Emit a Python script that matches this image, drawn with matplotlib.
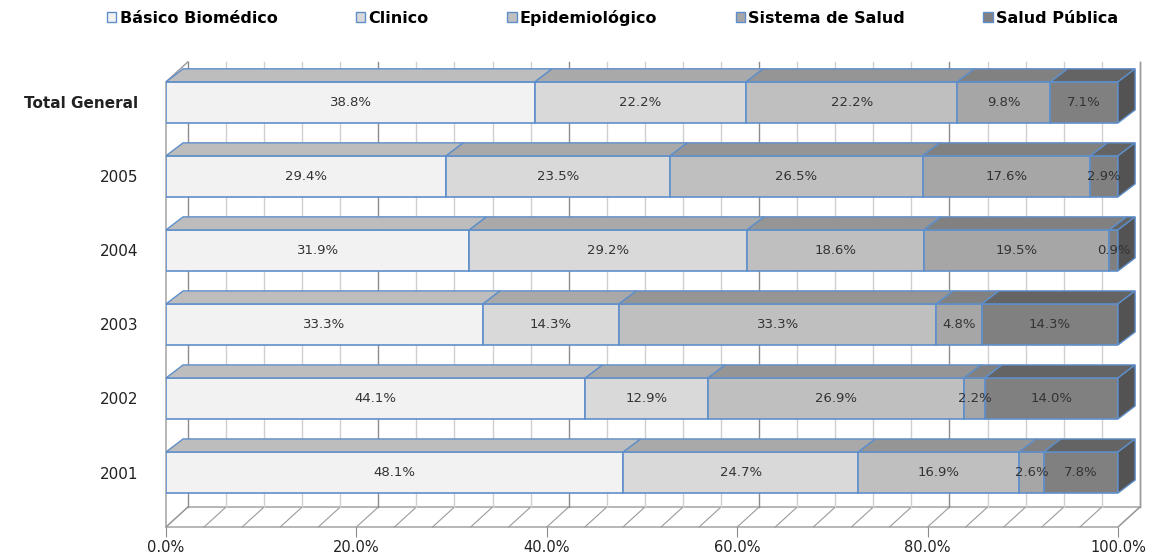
import numpy as np
import matplotlib.pyplot as plt
from matplotlib.patches import Polygon, Patch

# data (bottom to top)
categories = ['2001', '2002', '2003', '2004', '2005', 'Total General']
basico = [48.1, 44.1, 33.3, 31.9, 29.4, 38.8]
clinico = [24.7, 12.9, 14.3, 29.2, 23.5, 22.2]
epidem = [16.9, 26.9, 33.3, 18.6, 26.5, 22.2]
sistema = [2.6, 2.2, 4.8, 19.5, 17.6, 9.8]
salud_pub = [7.8, 14.0, 14.3, 0.9, 2.9, 7.1]
series_names = ['Básico Biomédico', 'Clinico', 'Epidemiológico', 'Sistema de Salud', 'Salud Pública']
colors = ['#f2f2f2', '#d9d9d9', '#bfbfbf', '#a6a6a6', '#808080']
edge = '#5f8fcb'

vals = np.array([basico, clinico, epidem, sistema, salud_pub])
shares = vals / vals.sum(axis=0)

def shade(c, f):
    r, g, b = [int(c[i:i + 2], 16) / 255 for i in (1, 3, 5)]
    return (r * f, g * f, b * f)

fig = plt.figure(figsize=(11.6, 5.56), dpi=100)
ax = fig.add_axes([166 / 1160, 29 / 556, 952 / 1160, 472 / 556])
y0, y1 = -0.736, 5.64
ax.set_xlim(0, 1)
ax.set_ylim(y0, y1)

# 3d box offsets (data units)
DX, DY = 0.023, 0.27
bdx, bdy = 0.018, 0.176
h = 0.555
wall_top = 5.547

# floor
ax.add_patch(Polygon([(0, y0), (1, y0), (1 + DX, y0 + DY), (DX, y0 + DY)],
                     closed=True, fc='white', ec='#9a9a9a', lw=1, clip_on=False, zorder=0))
for x in np.arange(0, 1.001, 0.04):
    ax.plot([x, x + DX], [y0, y0 + DY], color='#9a9a9a', lw=0.8, clip_on=False, zorder=0)
# back wall grid
for k, x in enumerate(np.arange(0, 1.001, 0.04)):
    major = k % 5 == 0
    ax.plot([x + DX, x + DX], [y0 + DY, wall_top], color='#8c8c8c' if major else '#cfcfcf',
            lw=1.0, clip_on=False, zorder=0)
# left wall edge
ax.plot([0, 0, DX], [y0, wall_top - DY, wall_top], color='#9a9a9a', lw=1, clip_on=False, zorder=0)
ax.plot([1 + DX, 1 + DX], [y0 + DY, wall_top], color='#9a9a9a', lw=1, clip_on=False, zorder=0)

ypos = np.arange(len(categories))
left = np.zeros(len(categories))
for i in range(len(series_names)):
    w = shares[i]
    ax.barh(ypos, w, left=left, height=h, color=colors[i], edgecolor=edge, lw=1.2, zorder=2)
    for j in range(len(categories)):
        l, r, top = left[j], left[j] + w[j], ypos[j] + h / 2
        ax.add_patch(Polygon([(l, top), (r, top), (r + bdx, top + bdy), (l + bdx, top + bdy)],
                             closed=True, fc=shade(colors[i], 0.78), ec=edge, lw=1.0,
                             zorder=2, clip_on=False))
        ax.text(l + w[j] / 2, ypos[j], f'{vals[i, j]:.1f}%', ha='center', va='center',
                fontsize=9.5, color='#333333', zorder=4)
    left += w

# right side faces
for j in range(len(categories)):
    b, t = ypos[j] - h / 2, ypos[j] + h / 2
    ax.add_patch(Polygon([(1, b), (1, t), (1 + bdx, t + bdy), (1 + bdx, b + bdy)],
                         closed=True, fc=shade(colors[-1], 0.65), ec=edge, lw=1.0,
                         zorder=3, clip_on=False))

ax.set_yticks(ypos)
ax.set_yticklabels(categories, fontsize=11, color='#222222')
ax.get_yticklabels()[-1].set_fontweight('bold')
ax.tick_params(axis='y', length=0, pad=20)
ax.set_xticks(np.arange(0, 1.01, 0.2))
ax.set_xticklabels([f'{v:.1f}%' for v in np.arange(0, 101, 20)], fontsize=10.5, color='#222222')
ax.tick_params(axis='x', length=7, color='#8c8c8c', pad=2)
for s in ax.spines.values():
    s.set_visible(False)

handles = [Patch(fc=c, ec=edge, lw=1) for c in colors]
fig.legend(handles, series_names, loc='upper center', bbox_to_anchor=(0.528, 1.008), ncol=5,
           frameon=False, handlelength=0.6, handleheight=0.6, handletextpad=0.2,
           columnspacing=4.9, prop={'weight': 'bold', 'size': 11.5})

fig.savefig('out.png', dpi=100)
